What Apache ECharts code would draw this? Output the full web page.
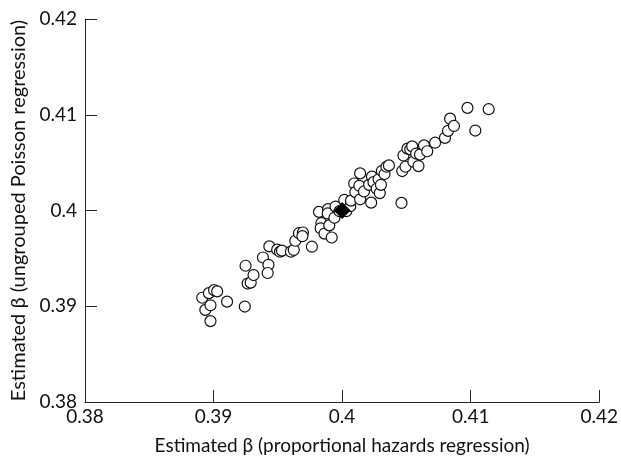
<!DOCTYPE html>
<html>
<head>
<meta charset="utf-8">
<script src="https://cdn.jsdelivr.net/npm/echarts@6/dist/echarts.min.js"></script>
<style>html,body{margin:0;padding:0;background:#fff}#c{width:621px;height:460px}</style>
</head>
<body>
<div id="c"></div>
<script>
// Estimated beta values (proportional hazards vs ungrouped Poisson)
const phBeta = [0.38912,0.38964,0.39004,0.39028,0.38936,0.38976,0.38976,0.39105,0.39243,0.39249,
0.39265,0.39289,0.39311,0.39384,0.39427,0.39421,0.39434,0.39495,0.39517,0.39532,
0.39602,0.39624,0.39636,0.39664,0.39695,0.39691,0.39765,0.39820,0.39839,0.39833,
0.39863,0.39891,0.39888,0.39900,0.39919,0.39940,0.39949,0.39980,0.40017,0.40032,
0.40063,0.40069,0.40094,0.40103,0.40140,0.40140,0.40134,0.40170,0.40210,0.40226,
0.40232,0.40244,0.40269,0.40284,0.40293,0.40302,0.40309,0.40330,0.40345,0.40364,
0.40462,0.40468,0.40477,0.40493,0.40508,0.40530,0.40545,0.40554,0.40576,0.40594,
0.40606,0.40637,0.40662,0.40723,0.40800,0.40824,0.40840,0.40870,0.40975,0.41036,0.41140];
const poissonBeta = [0.39089,0.39137,0.39168,0.39155,0.38962,0.39010,0.38845,0.39048,0.38997,0.39423,
0.39237,0.39247,0.39326,0.39509,0.39433,0.39347,0.39625,0.39591,0.39570,0.39581,
0.39570,0.39588,0.39684,0.39763,0.39770,0.39732,0.39622,0.39986,0.39869,0.39814,
0.39759,0.40014,0.39969,0.39845,0.39718,0.39924,0.40041,0.39993,0.40110,0.39993,
0.40045,0.40103,0.40282,0.40192,0.40117,0.40388,0.40258,0.40199,0.40268,0.40082,
0.40354,0.40296,0.40227,0.40326,0.40182,0.40268,0.40412,0.40381,0.40457,0.40471,
0.40079,0.40412,0.40574,0.40457,0.40646,0.40639,0.40670,0.40509,0.40595,0.40464,
0.40584,0.40680,0.40619,0.40708,0.40759,0.40832,0.40959,0.40883,0.41072,0.40835,0.41058];
const trueBeta = [0.4, 0.4];
const xTicks = [0.38, 0.39, 0.40, 0.41, 0.42];
const yTicks = [0.38, 0.39, 0.40, 0.41, 0.42];
const xTitle = 'Estimated β (proportional hazards regression)';
const yTitle = 'Estimated β (ungrouped Poisson regression)';

const pts = phBeta.map((x, i) => [x, poissonBeta[i]]);
const fmt = v => { const s = v.toFixed(2); return s === '0.40' ? '0.4' : s; };
const font = 'Lato';
const axisCommon = {
  type: 'value', min: 0.38, max: 0.42, interval: 0.01,
  splitLine: { show: false },
  axisLine: { show: true, onZero: false, lineStyle: { color: '#222', width: 1 } },
  axisTick: { show: true, inside: true, length: 12, lineStyle: { color: '#222', width: 1 } },
  axisLabel: { color: '#111', fontSize: 19, fontFamily: font, formatter: fmt },
  nameLocation: 'middle'
};
const chart = echarts.init(document.getElementById('c'), null, { renderer: 'canvas' });
chart.setOption({
  animation: false,
  backgroundColor: '#fff',
  grid: { left: 85, right: 17, top: 19, bottom: 53, containLabel: false },
  xAxis: Object.assign({}, axisCommon, { name: xTitle, nameGap: 34,
    nameTextStyle: { color: '#111', fontSize: 19, fontFamily: font },
    axisLabel: Object.assign({}, axisCommon.axisLabel, { margin: 5 }) }),
  yAxis: Object.assign({}, axisCommon, { name: yTitle, nameGap: 53,
    nameTextStyle: { color: '#111', fontSize: 20, fontFamily: font },
    axisLabel: Object.assign({}, axisCommon.axisLabel, { margin: 8 }) }),
  series: [
    { type: 'scatter', data: pts, symbol: 'circle', symbolSize: 11, z: 2,
      itemStyle: { color: '#fff', borderColor: '#111', borderWidth: 1.2, opacity: 1 } },
    { type: 'scatter', data: [trueBeta], symbol: 'diamond', symbolSize: 16, z: 10, zlevel: 1,
      itemStyle: { color: '#000', borderColor: '#000', borderWidth: 1, opacity: 1 } }
  ]
});
</script>
</body>
</html>
